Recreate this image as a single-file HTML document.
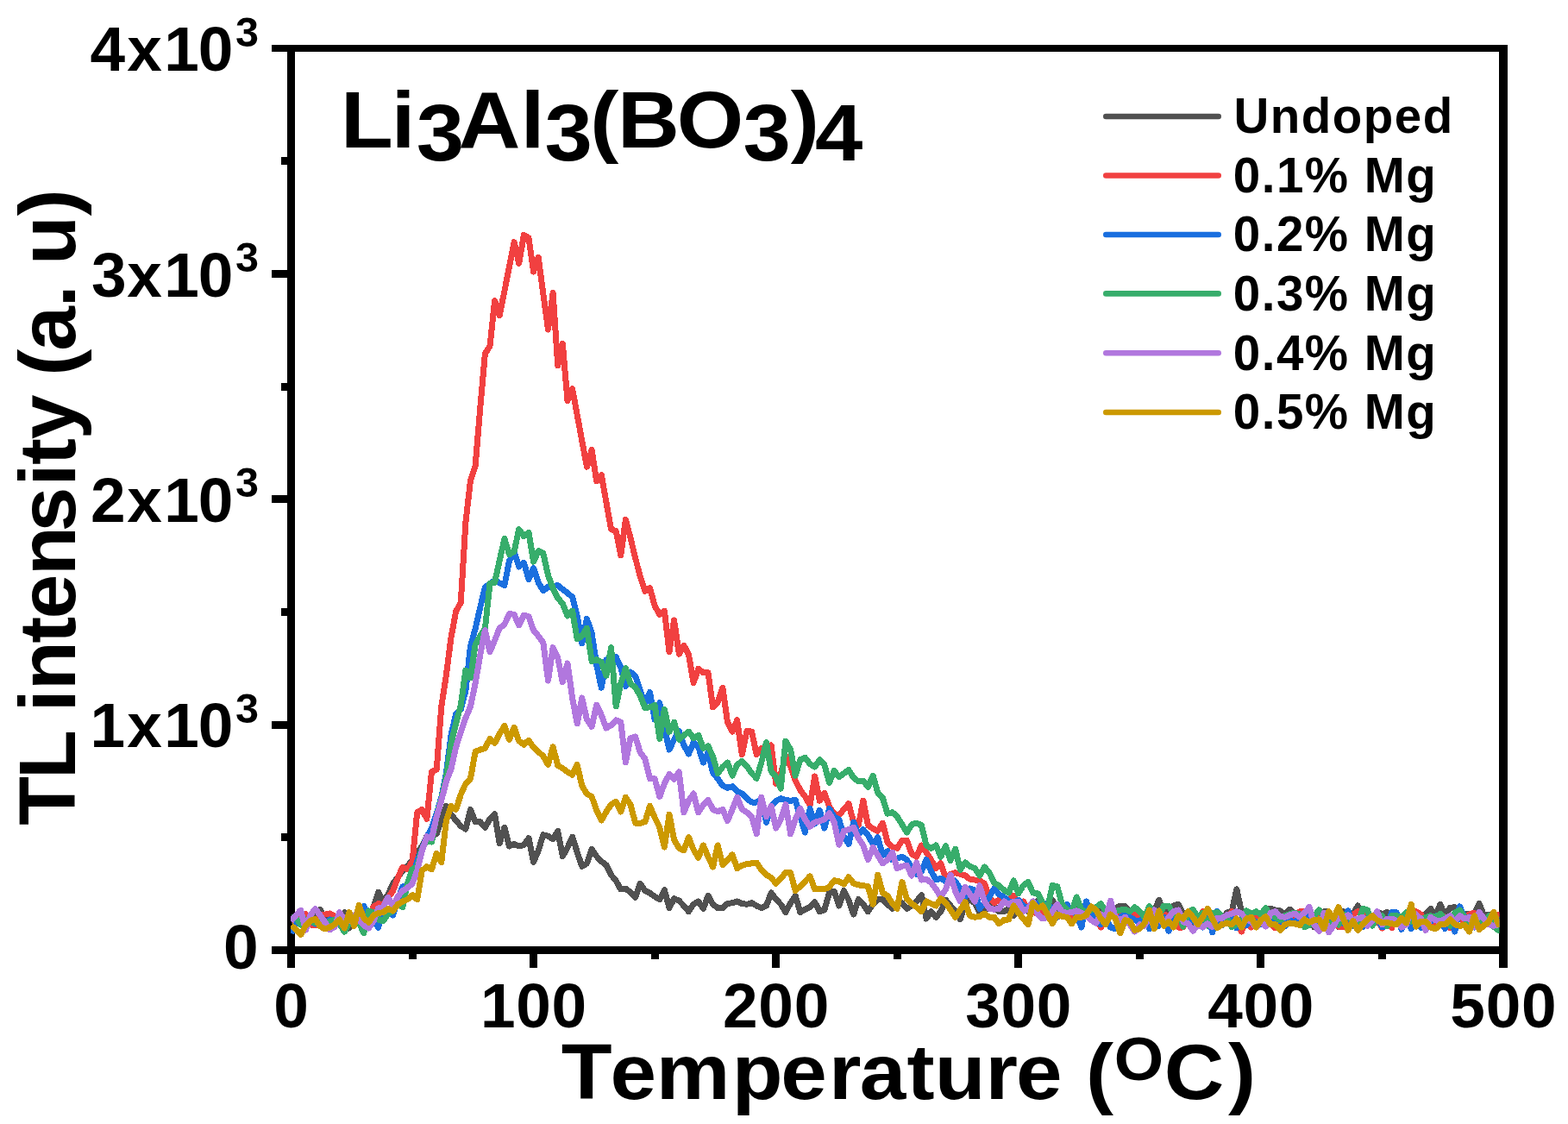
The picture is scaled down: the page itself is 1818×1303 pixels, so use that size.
<!DOCTYPE html>
<html lang="en">
<head>
<meta charset="utf-8">
<title>TL intensity vs Temperature - Li3Al3(BO3)4</title>
<style>
html,body{margin:0;padding:0;background:#fff;}
body{width:1818px;height:1303px;overflow:hidden;font-family:"Liberation Sans",Arial,sans-serif;}
svg{display:block;}
</style>
</head>
<body>
<svg width="1818" height="1303" viewBox="0 0 1818 1303">
<rect x="0" y="0" width="1818" height="1303" fill="#ffffff"/>
<g fill="#000" stroke="none" shape-rendering="crispEdges">
<rect x="333" y="52" width="9" height="1070"/>
<rect x="315" y="1097" width="1433" height="9"/>
<rect x="315" y="52" width="1433" height="8"/>
<rect x="1738" y="52" width="10" height="1070"/>
<rect x="326" y="966" width="7" height="9"/>
<rect x="315" y="836" width="18" height="9"/>
<rect x="326" y="705" width="7" height="9"/>
<rect x="315" y="574" width="18" height="9"/>
<rect x="326" y="444" width="7" height="9"/>
<rect x="315" y="313" width="18" height="9"/>
<rect x="326" y="182" width="7" height="9"/>
<rect x="474" y="1106" width="9" height="6"/>
<rect x="614" y="1106" width="9" height="16"/>
<rect x="755" y="1106" width="9" height="6"/>
<rect x="895" y="1106" width="9" height="16"/>
<rect x="1036" y="1106" width="9" height="6"/>
<rect x="1176" y="1106" width="9" height="16"/>
<rect x="1317" y="1106" width="9" height="6"/>
<rect x="1457" y="1106" width="9" height="16"/>
<rect x="1598" y="1106" width="9" height="6"/>
</g>
<defs><clipPath id="plotclip"><rect x="337.0" y="56.1" width="1401.5" height="1045.4"/></clipPath></defs>
<g clip-path="url(#plotclip)" fill="none" stroke-width="7" stroke-linejoin="round" stroke-linecap="butt" shape-rendering="crispEdges">
<polyline stroke="#515151" points="337.5,1067.7 343.1,1066.0 348.7,1067.7 354.4,1064.3 360.0,1067.7 365.6,1061.0 371.2,1054.3 376.9,1064.3 382.5,1067.7 388.1,1066.0 393.7,1064.3 399.3,1057.7 405.0,1076.0 410.6,1067.7 416.2,1066.0 421.8,1067.7 427.5,1066.0 433.1,1051.0 438.7,1034.3 444.3,1046.0 449.9,1037.0 455.6,1024.3 461.2,1016.8 466.8,1009.3 472.4,1004.3 478.1,996.8 483.7,987.7 489.3,981.5 494.9,969.4 500.5,970.1 506.2,966.5 511.8,950.0 517.4,934.3 523.0,944.3 528.6,951.0 534.3,957.7 539.9,961.0 545.5,938.5 551.1,952.7 556.8,952.7 562.4,959.3 568.0,949.3 573.6,943.5 579.2,977.7 584.9,959.3 590.5,981.0 596.1,978.5 601.7,981.0 607.4,979.3 613.0,971.8 618.6,999.3 624.2,986.0 629.8,967.7 635.5,969.3 641.1,972.7 646.7,963.5 652.3,992.7 658.0,982.7 663.6,970.2 669.2,987.7 674.8,1004.3 680.4,1001.0 686.1,984.3 691.7,992.7 697.3,998.5 702.9,1002.7 708.6,1014.3 714.2,1021.0 719.8,1031.0 725.4,1030.2 731.0,1034.3 736.7,1040.2 742.3,1024.3 747.9,1032.7 753.5,1035.2 759.1,1039.3 764.8,1042.7 770.4,1031.7 776.0,1052.5 781.6,1041.7 787.3,1044.2 792.9,1050.0 798.5,1056.7 804.1,1048.3 809.7,1045.0 815.4,1053.3 821.0,1038.3 826.6,1048.3 832.2,1052.5 837.9,1052.5 843.5,1047.5 849.1,1046.7 854.7,1045.0 860.3,1047.5 866.0,1048.3 871.6,1046.7 877.2,1050.0 882.8,1052.5 888.5,1050.0 894.1,1035.0 899.7,1042.5 905.3,1048.3 910.9,1057.5 916.6,1046.7 922.2,1038.3 927.8,1057.5 933.4,1054.2 939.1,1051.7 944.7,1045.8 950.3,1056.7 955.9,1055.0 961.5,1035.0 967.2,1033.3 972.8,1050.0 978.4,1032.5 984.0,1043.3 989.7,1060.0 995.3,1042.5 1000.9,1048.3 1006.5,1056.7 1012.1,1048.3 1017.8,1042.5 1023.4,1042.5 1029.0,1048.3 1034.6,1053.3 1040.2,1048.3 1045.9,1046.7 1051.5,1053.3 1057.1,1050.0 1062.7,1045.0 1068.4,1037.5 1074.0,1065.0 1079.6,1056.7 1085.2,1063.3 1090.8,1056.7 1096.5,1043.3 1102.1,1050.0 1107.7,1056.7 1113.3,1065.8 1119.0,1046.7 1124.6,1043.3 1130.2,1046.7 1135.8,1058.3 1141.4,1056.7 1147.1,1046.7 1152.7,1050.0 1158.3,1056.7 1163.9,1056.7 1169.6,1053.3 1175.2,1061.7 1180.8,1046.7 1186.4,1053.3 1192.0,1056.7 1197.7,1046.7 1203.3,1044.2 1208.9,1046.7 1214.5,1050.0 1220.2,1043.3 1225.8,1053.3 1231.4,1056.7 1237.0,1055.0 1242.6,1058.3 1248.3,1053.3 1253.9,1056.7 1259.5,1055.0 1265.1,1053.3 1270.8,1056.7 1276.4,1055.0 1282.0,1058.3 1287.6,1056.7 1293.2,1053.3 1298.9,1050.0 1304.5,1050.8 1310.1,1056.7 1315.7,1063.3 1321.3,1060.0 1327.0,1061.7 1332.6,1060.0 1338.2,1056.7 1343.8,1043.3 1349.5,1058.3 1355.1,1056.7 1360.7,1050.0 1366.3,1048.3 1371.9,1060.0 1377.6,1058.7 1383.2,1072.9 1388.8,1071.3 1394.4,1061.1 1400.1,1065.9 1405.7,1065.0 1411.3,1069.0 1416.9,1071.8 1422.5,1057.9 1428.2,1056.7 1433.8,1030.8 1439.4,1056.7 1445.0,1056.6 1450.7,1072.7 1456.3,1064.7 1461.9,1071.2 1467.5,1055.0 1473.1,1053.3 1478.8,1055.0 1484.4,1056.0 1490.0,1060.0 1495.6,1054.2 1501.3,1060.0 1506.9,1064.9 1512.5,1070.4 1518.1,1060.6 1523.7,1074.9 1529.4,1074.0 1535.0,1056.6 1540.6,1056.5 1546.2,1066.8 1551.9,1074.8 1557.5,1056.7 1563.1,1063.6 1568.7,1060.0 1574.3,1050.0 1580.0,1060.0 1585.6,1060.3 1591.2,1064.4 1596.8,1056.6 1602.5,1060.0 1608.1,1057.5 1613.7,1061.7 1619.3,1060.4 1624.9,1064.8 1630.6,1065.9 1636.2,1060.7 1641.8,1060.6 1647.4,1060.8 1653.0,1060.0 1658.7,1053.3 1664.3,1061.7 1669.9,1048.3 1675.5,1061.7 1681.2,1052.5 1686.8,1051.7 1692.4,1060.0 1698.0,1060.4 1703.6,1059.2 1709.3,1060.0 1714.9,1047.5 1720.5,1060.8 1726.1,1060.0 1731.8,1061.7 1737.4,1063.3 1743.0,1061.7"/>
<polyline stroke="#F14040" points="337.5,1067.7 343.1,1064.3 348.7,1066.0 354.4,1059.3 360.0,1072.0 365.6,1072.7 371.2,1061.0 376.9,1060.0 382.5,1059.0 388.1,1061.8 393.7,1067.7 399.3,1066.0 405.0,1067.7 410.6,1067.7 416.2,1067.7 421.8,1067.7 427.5,1064.3 433.1,1051.0 438.7,1047.7 444.3,1048.5 449.9,1041.0 455.6,1032.7 461.2,1017.7 466.8,1005.2 472.4,1007.7 478.1,998.7 483.7,941.8 489.3,938.5 494.9,949.3 500.5,894.3 506.2,892.3 511.8,819.0 517.4,782.3 523.0,739.0 528.6,709.0 534.3,698.2 539.9,605.3 545.5,557.0 551.1,540.3 556.8,472.5 562.4,410.0 568.0,401.3 573.6,348.7 579.2,365.8 584.9,337.5 590.5,309.2 596.1,280.8 601.7,305.3 607.4,272.5 613.0,275.8 618.6,315.0 624.2,298.3 629.8,340.2 635.5,382.0 641.1,339.5 646.7,423.7 652.3,398.3 658.0,464.5 663.6,450.8 669.2,480.9 674.8,511.1 680.4,541.2 686.1,521.5 691.7,557.8 697.3,550.7 702.9,582.2 708.6,613.7 714.2,615.7 719.8,643.7 725.4,602.3 731.0,623.7 736.7,647.0 742.3,668.7 747.9,685.3 753.5,681.5 759.1,702.3 764.8,712.3 770.4,708.2 776.0,755.7 781.6,719.0 787.3,758.2 792.9,748.2 798.5,759.0 804.1,791.5 809.7,775.3 815.4,779.8 821.0,779.8 826.6,819.8 832.2,814.0 837.9,797.3 843.5,837.3 849.1,848.2 854.7,834.8 860.3,874.8 866.0,847.3 871.6,848.2 877.2,874.8 882.8,867.3 888.5,875.7 894.1,864.0 899.7,908.3 905.3,896.7 910.9,876.7 916.6,888.3 922.2,905.0 927.8,915.8 933.4,923.3 939.1,933.3 944.7,900.0 950.3,928.3 955.9,919.2 961.5,935.0 967.2,943.3 972.8,945.0 978.4,938.3 984.0,931.7 989.7,953.3 995.3,956.7 1000.9,928.3 1006.5,956.7 1012.1,960.8 1017.8,963.3 1023.4,954.2 1029.0,976.7 1034.6,981.7 1040.2,983.3 1045.9,974.2 1051.5,974.2 1057.1,990.0 1062.7,993.3 1068.4,980.0 1074.0,988.3 1079.6,996.7 1085.2,1006.7 1090.8,1000.8 1096.5,1018.3 1102.1,1013.3 1107.7,1011.7 1113.3,1013.3 1119.0,1015.0 1124.6,1019.2 1130.2,1020.0 1135.8,1020.8 1141.4,1024.2 1147.1,1040.0 1152.7,1046.7 1158.3,1043.3 1163.9,1045.0 1169.6,1044.2 1175.2,1038.3 1180.8,1046.7 1186.4,1045.0 1192.0,1055.0 1197.7,1056.7 1203.3,1060.0 1208.9,1058.3 1214.5,1061.7 1220.2,1060.0 1225.8,1063.3 1231.4,1060.0 1237.0,1056.7 1242.6,1061.7 1248.3,1060.0 1253.9,1063.3 1259.5,1060.0 1265.1,1061.7 1270.8,1063.3 1276.4,1075.0 1282.0,1063.3 1287.6,1060.0 1293.2,1061.7 1298.9,1061.7 1304.5,1060.0 1310.1,1063.3 1315.7,1060.0 1321.3,1061.7 1327.0,1065.0 1332.6,1060.0 1338.2,1061.7 1343.8,1063.3 1349.5,1060.0 1355.1,1061.7 1360.7,1060.0 1366.3,1075.1 1371.9,1075.0 1377.6,1057.1 1383.2,1057.7 1388.8,1072.7 1394.4,1056.7 1400.1,1070.7 1405.7,1060.0 1411.3,1069.4 1416.9,1062.2 1422.5,1068.1 1428.2,1056.7 1433.8,1068.1 1439.4,1080.0 1445.0,1067.6 1450.7,1075.0 1456.3,1059.2 1461.9,1064.6 1467.5,1063.9 1473.1,1070.5 1478.8,1075.9 1484.4,1075.0 1490.0,1066.9 1495.6,1064.9 1501.3,1061.4 1506.9,1056.7 1512.5,1056.7 1518.1,1056.5 1523.7,1065.3 1529.4,1062.4 1535.0,1063.6 1540.6,1073.8 1546.2,1066.5 1551.9,1074.2 1557.5,1075.0 1563.1,1067.2 1568.7,1060.7 1574.3,1056.5 1580.0,1062.5 1585.6,1058.7 1591.2,1068.3 1596.8,1066.2 1602.5,1076.0 1608.1,1069.5 1613.7,1075.8 1619.3,1059.6 1624.9,1073.9 1630.6,1071.9 1636.2,1070.7 1641.8,1056.7 1647.4,1060.0 1653.0,1074.1 1658.7,1071.3 1664.3,1071.8 1669.9,1061.7 1675.5,1063.1 1681.2,1075.6 1686.8,1075.2 1692.4,1059.2 1698.0,1071.1 1703.6,1060.0 1709.3,1058.3 1714.9,1070.3 1720.5,1065.2 1726.1,1066.6 1731.8,1065.8 1737.4,1060.0 1743.0,1060.0"/>
<polyline stroke="#1A6FDF" points="337.5,1081.8 343.1,1071.0 348.7,1067.7 354.4,1072.7 360.0,1067.7 365.6,1071.0 371.2,1067.7 376.9,1071.0 382.5,1066.0 388.1,1067.7 393.7,1069.3 399.3,1067.7 405.0,1071.0 410.6,1067.7 416.2,1061.0 421.8,1050.2 427.5,1061.0 433.1,1067.7 438.7,1075.2 444.3,1051.0 449.9,1056.0 455.6,1061.0 461.2,1042.7 466.8,1027.7 472.4,1027.7 478.1,1016.0 483.7,998.5 489.3,984.3 494.9,970.2 500.5,960.0 506.2,943.5 511.8,924.3 517.4,896.0 523.0,852.3 528.6,827.7 534.3,822.3 539.9,800.7 545.5,749.0 551.1,729.0 556.8,704.0 562.4,680.7 568.0,676.8 573.6,672.8 579.2,675.8 584.9,678.7 590.5,650.3 596.1,639.5 601.7,657.0 607.4,652.3 613.0,671.7 618.6,658.7 624.2,675.3 629.8,684.8 635.5,680.3 641.1,679.5 646.7,678.7 652.3,683.0 658.0,687.3 663.6,692.3 669.2,714.0 674.8,745.7 680.4,717.3 686.1,734.0 691.7,770.7 697.3,797.3 702.9,764.8 708.6,767.3 714.2,761.5 719.8,774.0 725.4,795.7 731.0,779.0 736.7,784.0 742.3,800.7 747.9,815.7 753.5,802.3 759.1,834.0 764.8,814.8 770.4,844.0 776.0,869.0 781.6,857.3 787.3,847.3 792.9,864.0 798.5,874.0 804.1,860.7 809.7,865.7 815.4,884.0 821.0,872.3 826.6,895.8 832.2,902.5 837.9,910.8 843.5,913.3 849.1,911.7 854.7,917.5 860.3,920.0 866.0,925.8 871.6,930.0 877.2,930.0 882.8,926.7 888.5,953.3 894.1,935.0 899.7,928.3 905.3,925.8 910.9,927.5 916.6,928.3 922.2,927.5 927.8,946.7 933.4,965.0 939.1,937.5 944.7,955.0 950.3,939.2 955.9,960.0 961.5,937.5 967.2,946.7 972.8,950.0 978.4,970.0 984.0,978.3 989.7,953.3 995.3,966.7 1000.9,961.7 1006.5,968.3 1012.1,978.3 1017.8,970.8 1023.4,991.7 1029.0,986.7 1034.6,996.7 1040.2,995.0 1045.9,993.3 1051.5,996.7 1057.1,1006.7 1062.7,1013.3 1068.4,1010.0 1074.0,996.7 1079.6,1010.0 1085.2,1020.0 1090.8,1018.3 1096.5,1021.7 1102.1,1018.3 1107.7,1021.7 1113.3,1030.0 1119.0,1040.0 1124.6,1030.0 1130.2,1031.7 1135.8,1053.3 1141.4,1046.7 1147.1,1040.0 1152.7,1030.0 1158.3,1036.7 1163.9,1040.0 1169.6,1045.0 1175.2,1046.7 1180.8,1043.3 1186.4,1050.0 1192.0,1053.3 1197.7,1050.0 1203.3,1046.7 1208.9,1048.3 1214.5,1046.7 1220.2,1055.0 1225.8,1063.3 1231.4,1053.3 1237.0,1048.3 1242.6,1056.7 1248.3,1060.0 1253.9,1075.0 1259.5,1045.0 1265.1,1060.0 1270.8,1063.3 1276.4,1071.7 1282.0,1063.3 1287.6,1075.0 1293.2,1076.7 1298.9,1063.3 1304.5,1060.0 1310.1,1063.3 1315.7,1066.7 1321.3,1068.3 1327.0,1063.3 1332.6,1076.7 1338.2,1063.3 1343.8,1073.3 1349.5,1063.3 1355.1,1079.2 1360.7,1063.3 1366.3,1060.8 1371.9,1066.9 1377.6,1063.4 1383.2,1068.1 1388.8,1068.5 1394.4,1075.0 1400.1,1057.3 1405.7,1080.8 1411.3,1056.3 1416.9,1072.7 1422.5,1061.2 1428.2,1060.7 1433.8,1075.9 1439.4,1065.4 1445.0,1072.7 1450.7,1065.5 1456.3,1068.8 1461.9,1071.7 1467.5,1071.7 1473.1,1059.0 1478.8,1068.7 1484.4,1066.7 1490.0,1073.4 1495.6,1066.5 1501.3,1070.8 1506.9,1060.0 1512.5,1069.4 1518.1,1057.3 1523.7,1071.2 1529.4,1067.8 1535.0,1062.0 1540.6,1056.6 1546.2,1073.3 1551.9,1065.5 1557.5,1070.4 1563.1,1055.8 1568.7,1073.6 1574.3,1070.3 1580.0,1074.4 1585.6,1063.9 1591.2,1072.0 1596.8,1064.9 1602.5,1074.7 1608.1,1073.6 1613.7,1057.5 1619.3,1057.9 1624.9,1077.5 1630.6,1058.7 1636.2,1076.7 1641.8,1060.3 1647.4,1075.3 1653.0,1064.7 1658.7,1068.5 1664.3,1062.0 1669.9,1066.1 1675.5,1076.7 1681.2,1063.7 1686.8,1080.0 1692.4,1050.8 1698.0,1063.3 1703.6,1063.0 1709.3,1075.0 1714.9,1067.7 1720.5,1067.7 1726.1,1066.7 1731.8,1074.1 1737.4,1069.6 1743.0,1063.3"/>
<polyline stroke="#37AD6B" points="337.5,1063.3 343.1,1064.0 348.7,1072.0 354.4,1066.0 360.0,1068.0 365.6,1070.0 371.2,1066.0 376.9,1072.0 382.5,1068.0 388.1,1066.0 393.7,1071.0 399.3,1080.2 405.0,1069.3 410.6,1064.3 416.2,1069.3 421.8,1081.8 427.5,1056.0 433.1,1057.7 438.7,1066.0 444.3,1067.7 449.9,1059.3 455.6,1056.0 461.2,1047.7 466.8,1051.8 472.4,1024.3 478.1,1007.7 483.7,1004.3 489.3,984.3 494.9,974.3 500.5,976.0 506.2,946.0 511.8,926.0 517.4,901.0 523.0,862.3 528.6,839.0 534.3,817.3 539.9,777.3 545.5,785.7 551.1,747.3 556.8,737.3 562.4,729.0 568.0,676.2 573.6,675.3 579.2,649.9 584.9,624.5 590.5,642.8 596.1,639.5 601.7,613.7 607.4,621.7 613.0,617.3 618.6,651.2 624.2,638.7 629.8,641.2 635.5,667.0 641.1,682.0 646.7,693.2 652.3,699.8 658.0,714.0 663.6,708.2 669.2,740.7 674.8,737.3 680.4,728.2 686.1,766.5 691.7,764.8 697.3,767.3 702.9,783.2 708.6,750.7 714.2,819.0 719.8,792.3 725.4,774.8 731.0,792.3 736.7,797.3 742.3,806.5 747.9,820.7 753.5,819.8 759.1,817.3 764.8,856.5 770.4,822.3 776.0,848.2 781.6,837.3 787.3,857.3 792.9,852.3 798.5,848.2 804.1,855.7 809.7,852.3 815.4,867.3 821.0,864.8 826.6,877.3 832.2,896.5 837.9,889.0 843.5,884.0 849.1,899.0 854.7,886.5 860.3,882.3 866.0,888.2 871.6,896.5 877.2,902.3 882.8,884.0 888.5,860.7 894.1,894.0 899.7,900.7 905.3,914.2 910.9,859.0 916.6,869.0 922.2,899.2 927.8,880.7 933.4,878.2 939.1,885.7 944.7,889.0 950.3,880.7 955.9,886.7 961.5,907.5 967.2,893.3 972.8,900.8 978.4,896.7 984.0,892.5 989.7,901.7 995.3,905.8 1000.9,905.0 1006.5,912.5 1012.1,899.2 1017.8,919.2 1023.4,925.0 1029.0,943.3 1034.6,941.7 1040.2,946.7 1045.9,955.8 1051.5,965.0 1057.1,955.8 1062.7,954.2 1068.4,956.7 1074.0,980.0 1079.6,983.3 1085.2,980.0 1090.8,993.3 1096.5,980.8 1102.1,997.5 1107.7,984.2 1113.3,1008.3 1119.0,1000.0 1124.6,1004.2 1130.2,1006.7 1135.8,1015.0 1141.4,1005.0 1147.1,1011.7 1152.7,1023.3 1158.3,1026.7 1163.9,1031.7 1169.6,1035.0 1175.2,1020.8 1180.8,1035.8 1186.4,1026.7 1192.0,1022.5 1197.7,1035.0 1203.3,1035.8 1208.9,1046.7 1214.5,1053.3 1220.2,1026.7 1225.8,1027.5 1231.4,1048.3 1237.0,1055.0 1242.6,1056.7 1248.3,1040.0 1253.9,1055.0 1259.5,1056.7 1265.1,1055.0 1270.8,1051.7 1276.4,1047.5 1282.0,1056.7 1287.6,1060.0 1293.2,1056.7 1298.9,1055.0 1304.5,1054.2 1310.1,1056.7 1315.7,1051.7 1321.3,1056.7 1327.0,1063.3 1332.6,1050.8 1338.2,1060.0 1343.8,1061.7 1349.5,1050.0 1355.1,1050.0 1360.7,1060.0 1366.3,1060.7 1371.9,1074.2 1377.6,1058.1 1383.2,1054.2 1388.8,1063.9 1394.4,1058.3 1400.1,1073.3 1405.7,1059.1 1411.3,1057.3 1416.9,1061.7 1422.5,1064.0 1428.2,1074.4 1433.8,1072.0 1439.4,1071.3 1445.0,1055.8 1450.7,1059.2 1456.3,1056.7 1461.9,1060.0 1467.5,1052.5 1473.1,1060.4 1478.8,1063.3 1484.4,1066.7 1490.0,1061.5 1495.6,1059.5 1501.3,1058.1 1506.9,1060.3 1512.5,1074.5 1518.1,1072.6 1523.7,1061.7 1529.4,1055.0 1535.0,1063.3 1540.6,1072.1 1546.2,1068.3 1551.9,1072.0 1557.5,1059.9 1563.1,1062.2 1568.7,1068.5 1574.3,1070.6 1580.0,1053.3 1585.6,1055.0 1591.2,1073.1 1596.8,1063.3 1602.5,1061.7 1608.1,1073.6 1613.7,1061.7 1619.3,1061.7 1624.9,1063.3 1630.6,1057.7 1636.2,1068.1 1641.8,1069.4 1647.4,1066.1 1653.0,1063.3 1658.7,1061.7 1664.3,1063.3 1669.9,1059.6 1675.5,1065.5 1681.2,1073.3 1686.8,1057.8 1692.4,1055.0 1698.0,1063.3 1703.6,1074.7 1709.3,1073.3 1714.9,1067.0 1720.5,1068.3 1726.1,1062.0 1731.8,1074.2 1737.4,1078.3 1743.0,1071.7"/>
<polyline stroke="#B177DE" points="337.5,1067.7 343.1,1061.0 348.7,1055.2 354.4,1078.2 360.0,1061.0 365.6,1053.5 371.2,1061.0 376.9,1069.3 382.5,1077.7 388.1,1074.3 393.7,1057.7 399.3,1066.0 405.0,1067.7 410.6,1061.0 416.2,1066.0 421.8,1072.7 427.5,1076.0 433.1,1067.7 438.7,1052.7 444.3,1051.8 449.9,1040.2 455.6,1051.0 461.2,1039.3 466.8,1032.7 472.4,1029.3 478.1,1024.3 483.7,1009.3 489.3,986.0 494.9,969.7 500.5,971.8 506.2,946.8 511.8,927.7 517.4,906.0 523.0,891.5 528.6,866.5 534.3,848.2 539.9,832.3 545.5,819.0 551.1,792.3 556.8,759.0 562.4,730.7 568.0,755.7 573.6,742.3 579.2,728.2 584.9,724.0 590.5,711.5 596.1,712.3 601.7,724.8 607.4,713.2 613.0,714.8 618.6,730.7 624.2,737.3 629.8,744.8 635.5,789.0 641.1,750.7 646.7,762.3 652.3,790.7 658.0,769.0 663.6,809.0 669.2,839.0 674.8,809.0 680.4,834.0 686.1,842.3 691.7,817.3 697.3,829.0 702.9,844.0 708.6,840.7 714.2,834.8 719.8,837.3 725.4,884.0 731.0,855.7 736.7,854.0 742.3,872.3 747.9,879.8 753.5,902.7 759.1,902.7 764.8,923.5 770.4,908.3 776.0,897.5 781.6,903.3 787.3,895.0 792.9,941.7 798.5,928.3 804.1,920.0 809.7,941.7 815.4,933.3 821.0,927.5 826.6,938.3 832.2,940.8 837.9,938.3 843.5,951.7 849.1,938.3 854.7,924.2 860.3,938.3 866.0,941.7 871.6,946.7 877.2,966.7 882.8,924.2 888.5,946.7 894.1,934.2 899.7,960.0 905.3,950.0 910.9,932.5 916.6,966.7 922.2,950.0 927.8,937.5 933.4,950.0 939.1,958.3 944.7,953.3 950.3,951.7 955.9,950.0 961.5,942.5 967.2,953.3 972.8,979.2 978.4,963.3 984.0,961.7 989.7,959.2 995.3,971.7 1000.9,980.0 1006.5,996.7 1012.1,982.5 1017.8,991.7 1023.4,1000.8 1029.0,996.7 1034.6,988.3 1040.2,1006.7 1045.9,1004.2 1051.5,1003.3 1057.1,1015.0 1062.7,1000.0 1068.4,1020.0 1074.0,1019.2 1079.6,1023.3 1085.2,1030.8 1090.8,1040.0 1096.5,1030.8 1102.1,1014.2 1107.7,1033.3 1113.3,1045.0 1119.0,1028.3 1124.6,1036.7 1130.2,1045.0 1135.8,1026.7 1141.4,1045.0 1147.1,1053.3 1152.7,1054.2 1158.3,1053.3 1163.9,1045.0 1169.6,1048.3 1175.2,1045.0 1180.8,1045.0 1186.4,1056.7 1192.0,1053.3 1197.7,1045.0 1203.3,1060.0 1208.9,1065.0 1214.5,1063.3 1220.2,1056.7 1225.8,1048.3 1231.4,1056.7 1237.0,1058.3 1242.6,1057.5 1248.3,1055.8 1253.9,1058.3 1259.5,1061.7 1265.1,1066.7 1270.8,1070.0 1276.4,1060.0 1282.0,1065.0 1287.6,1044.2 1293.2,1063.3 1298.9,1066.7 1304.5,1063.3 1310.1,1071.7 1315.7,1080.0 1321.3,1071.7 1327.0,1073.3 1332.6,1063.3 1338.2,1055.0 1343.8,1063.3 1349.5,1071.7 1355.1,1063.3 1360.7,1056.7 1366.3,1055.0 1371.9,1068.5 1377.6,1070.8 1383.2,1079.2 1388.8,1071.9 1394.4,1074.8 1400.1,1070.8 1405.7,1074.4 1411.3,1064.2 1416.9,1064.2 1422.5,1060.8 1428.2,1059.2 1433.8,1056.6 1439.4,1059.2 1445.0,1065.3 1450.7,1068.3 1456.3,1074.9 1461.9,1069.0 1467.5,1074.0 1473.1,1058.3 1478.8,1056.7 1484.4,1062.5 1490.0,1063.3 1495.6,1060.8 1501.3,1059.2 1506.9,1063.3 1512.5,1058.3 1518.1,1051.7 1523.7,1071.7 1529.4,1079.2 1535.0,1058.3 1540.6,1080.8 1546.2,1073.3 1551.9,1063.3 1557.5,1065.4 1563.1,1060.9 1568.7,1066.7 1574.3,1065.0 1580.0,1063.3 1585.6,1073.3 1591.2,1066.9 1596.8,1056.7 1602.5,1071.7 1608.1,1065.0 1613.7,1065.0 1619.3,1067.5 1624.9,1075.0 1630.6,1071.7 1636.2,1056.3 1641.8,1060.3 1647.4,1065.0 1653.0,1078.3 1658.7,1063.3 1664.3,1066.7 1669.9,1068.3 1675.5,1065.0 1681.2,1061.7 1686.8,1068.3 1692.4,1061.6 1698.0,1065.0 1703.6,1063.3 1709.3,1074.3 1714.9,1057.5 1720.5,1065.0 1726.1,1071.7 1731.8,1073.3 1737.4,1071.7 1743.0,1068.3"/>
<polyline stroke="#CC9900" points="337.5,1072.7 343.1,1077.7 348.7,1083.5 354.4,1073.0 360.0,1067.2 365.6,1065.5 371.2,1073.8 376.9,1077.0 382.5,1075.0 388.1,1071.6 393.7,1066.0 399.3,1076.0 405.0,1057.7 410.6,1073.5 416.2,1049.3 421.8,1064.3 427.5,1069.3 433.1,1061.0 438.7,1058.5 444.3,1057.7 449.9,1053.5 455.6,1056.0 461.2,1048.5 466.8,1045.2 472.4,1042.7 478.1,1037.7 483.7,1042.7 489.3,1009.3 494.9,1004.7 500.5,1007.7 506.2,989.3 511.8,999.7 517.4,951.0 523.0,934.3 528.6,938.5 534.3,921.0 539.9,908.5 545.5,902.7 551.1,871.5 556.8,869.0 562.4,867.3 568.0,856.5 573.6,861.5 579.2,850.7 584.9,841.5 590.5,857.3 596.1,843.2 601.7,859.0 607.4,863.2 613.0,858.2 618.6,866.5 624.2,871.5 629.8,876.5 635.5,886.5 641.1,865.7 646.7,887.3 652.3,890.7 658.0,894.8 663.6,898.2 669.2,886.5 674.8,911.0 680.4,920.2 686.1,923.5 691.7,939.3 697.3,951.0 702.9,941.0 708.6,932.7 714.2,929.3 719.8,941.0 725.4,924.3 731.0,932.7 736.7,954.3 742.3,954.3 747.9,952.7 753.5,934.3 759.1,947.7 764.8,959.3 770.4,982.0 776.0,944.2 781.6,973.7 787.3,983.3 792.9,985.8 798.5,970.8 804.1,985.0 809.7,994.2 815.4,980.0 821.0,993.3 826.6,1005.0 832.2,980.0 837.9,1002.5 843.5,996.7 849.1,990.8 854.7,1006.7 860.3,1003.3 866.0,1001.7 871.6,1000.8 877.2,1000.0 882.8,1008.3 888.5,1014.2 894.1,1017.5 899.7,1024.2 905.3,1018.3 910.9,1011.7 916.6,1011.7 922.2,1032.5 927.8,1027.5 933.4,1021.7 939.1,1015.8 944.7,1030.8 950.3,1030.8 955.9,1030.8 961.5,1028.3 967.2,1020.8 972.8,1021.7 978.4,1025.0 984.0,1016.7 989.7,1024.2 995.3,1025.8 1000.9,1026.7 1006.5,1027.5 1012.1,1048.3 1017.8,1014.2 1023.4,1035.0 1029.0,1038.3 1034.6,1047.5 1040.2,1053.3 1045.9,1022.5 1051.5,1042.5 1057.1,1047.5 1062.7,1051.7 1068.4,1056.7 1074.0,1045.0 1079.6,1047.5 1085.2,1050.0 1090.8,1041.7 1096.5,1046.7 1102.1,1055.0 1107.7,1063.3 1113.3,1055.0 1119.0,1045.8 1124.6,1061.7 1130.2,1063.3 1135.8,1062.5 1141.4,1059.2 1147.1,1063.3 1152.7,1063.3 1158.3,1070.8 1163.9,1066.7 1169.6,1065.8 1175.2,1050.0 1180.8,1058.3 1186.4,1065.0 1192.0,1071.7 1197.7,1046.7 1203.3,1053.3 1208.9,1050.0 1214.5,1060.0 1220.2,1070.8 1225.8,1060.0 1231.4,1062.5 1237.0,1063.3 1242.6,1070.8 1248.3,1063.3 1253.9,1063.3 1259.5,1060.8 1265.1,1050.8 1270.8,1055.0 1276.4,1065.0 1282.0,1071.7 1287.6,1060.0 1293.2,1065.0 1298.9,1081.7 1304.5,1066.7 1310.1,1068.3 1315.7,1078.3 1321.3,1076.7 1327.0,1070.0 1332.6,1055.0 1338.2,1076.7 1343.8,1055.8 1349.5,1073.3 1355.1,1068.3 1360.7,1075.0 1366.3,1061.7 1371.9,1065.0 1377.6,1056.7 1383.2,1063.3 1388.8,1071.7 1394.4,1063.3 1400.1,1053.3 1405.7,1065.0 1411.3,1075.8 1416.9,1071.7 1422.5,1070.0 1428.2,1071.7 1433.8,1065.0 1439.4,1075.0 1445.0,1065.0 1450.7,1063.3 1456.3,1075.0 1461.9,1066.7 1467.5,1062.5 1473.1,1071.7 1478.8,1071.7 1484.4,1078.3 1490.0,1071.7 1495.6,1070.0 1501.3,1070.8 1506.9,1072.5 1512.5,1065.8 1518.1,1069.2 1523.7,1066.7 1529.4,1065.8 1535.0,1076.7 1540.6,1056.7 1546.2,1065.0 1551.9,1051.7 1557.5,1065.0 1563.1,1078.3 1568.7,1067.5 1574.3,1078.3 1580.0,1071.7 1585.6,1065.8 1591.2,1061.7 1596.8,1066.7 1602.5,1070.0 1608.1,1069.2 1613.7,1070.8 1619.3,1071.7 1624.9,1064.2 1630.6,1070.0 1636.2,1048.3 1641.8,1074.2 1647.4,1068.3 1653.0,1068.3 1658.7,1075.0 1664.3,1076.7 1669.9,1071.7 1675.5,1071.7 1681.2,1065.8 1686.8,1071.7 1692.4,1073.3 1698.0,1072.5 1703.6,1080.0 1709.3,1061.7 1714.9,1077.5 1720.5,1073.3 1726.1,1068.3 1731.8,1057.5 1737.4,1071.7 1743.0,1070.0"/>
</g>
<g font-family="'Liberation Sans', Arial, Helvetica, sans-serif" font-weight="700" font-size="73" fill="#000" text-anchor="middle" letter-spacing="0.7">
<text x="337.8" y="1190.6">0</text>
<text x="618.9" y="1190.6">100</text>
<text x="900" y="1190.6">200</text>
<text x="1181.1" y="1190.6">300</text>
<text x="1462.2" y="1190.6">400</text>
<text x="1743.3" y="1190.6">500</text>
</g>
<g font-family="'Liberation Sans', Arial, Helvetica, sans-serif" font-weight="700" font-size="73" fill="#000">
<text x="259.01" y="1122.6">0</text>
<text x="104.4 147.2 190.3 229.81" y="866.25">1x10<tspan font-size="48.5" x="272.89" dy="-28.6">3</tspan></text>
<text x="104.97 147.2 190.3 229.81" y="604.9">2x10<tspan font-size="48.5" x="272.89" dy="-28.6">3</tspan></text>
<text x="105.92 147.2 190.3 229.81" y="343.55">3x10<tspan font-size="48.5" x="272.89" dy="-28.6">3</tspan></text>
<text x="104.4 147.2 190.3 229.81" y="82.2">4x10<tspan font-size="48.5" x="272.89" dy="-28.6">3</tspan></text>
</g>
<text font-family="'Liberation Sans', Arial, Helvetica, sans-serif" font-weight="700" font-size="91.3" fill="#000" transform="scale(1.055 1)" x="616.89 670.65 721 804.6 858.14 910.85 944.81 996.8 1027.23 1082.99 1116.53 1167.31 1193.27" y="1273.6">Temperature (<tspan font-size="70" x="1224.52" y="1252.4">O</tspan><tspan x="1279.48 1349.67" y="1273.6">C)</tspan></text>
<text font-family="'Liberation Sans', Arial, Helvetica, sans-serif" font-weight="700" font-size="93" fill="#000" transform="translate(86.8 956.8) rotate(-90)" x="-0.04 53.88 110.69 131.51 156.77 210.96 239.27 289.87 340.43 393.31 417.86 447.57 499.3 521.37 550.08 600.49 626.33 649.83 706.61" y="0">TL intensity (a. u)</text>
<text font-family="'Liberation Sans', Arial, Helvetica, sans-serif" font-weight="700" font-size="93" fill="#000" transform="scale(1.07 1)"><tspan x="369.11 424.16" y="171">Li</tspan><tspan x="451.14" y="186">3</tspan><tspan x="496.84 564.35" y="171">Al</tspan><tspan x="590.2" y="186">3</tspan><tspan x="639.57 669.2 733.48" y="171">(BO</tspan><tspan x="805.25" y="186">3</tspan><tspan x="856.73" y="171">)</tspan><tspan x="883.27" y="185.8">4</tspan></text>
<line x1="1282.3" y1="135" x2="1412.7" y2="135" stroke="#515151" stroke-width="6.6" stroke-linecap="round"/>
<text font-family="'Liberation Sans', Arial, Helvetica, sans-serif" font-weight="700" font-size="56.5" fill="#000" letter-spacing="1.5" x="1430.41" y="154">Undoped</text>
<line x1="1282.3" y1="203.5" x2="1412.7" y2="203.5" stroke="#F14040" stroke-width="6.6" stroke-linecap="round"/>
<text font-family="'Liberation Sans', Arial, Helvetica, sans-serif" font-weight="700" font-size="56.5" fill="#000" letter-spacing="1.5" x="1429.77" y="222.68">0.1% Mg</text>
<line x1="1282.3" y1="272" x2="1412.7" y2="272" stroke="#1A6FDF" stroke-width="6.6" stroke-linecap="round"/>
<text font-family="'Liberation Sans', Arial, Helvetica, sans-serif" font-weight="700" font-size="56.5" fill="#000" letter-spacing="1.5" x="1429.77" y="291.36">0.2% Mg</text>
<line x1="1282.3" y1="340.4" x2="1412.7" y2="340.4" stroke="#37AD6B" stroke-width="6.6" stroke-linecap="round"/>
<text font-family="'Liberation Sans', Arial, Helvetica, sans-serif" font-weight="700" font-size="56.5" fill="#000" letter-spacing="1.5" x="1429.77" y="360.04">0.3% Mg</text>
<line x1="1282.3" y1="409.3" x2="1412.7" y2="409.3" stroke="#B177DE" stroke-width="6.6" stroke-linecap="round"/>
<text font-family="'Liberation Sans', Arial, Helvetica, sans-serif" font-weight="700" font-size="56.5" fill="#000" letter-spacing="1.5" x="1429.77" y="428.72">0.4% Mg</text>
<line x1="1282.3" y1="478" x2="1412.7" y2="478" stroke="#CC9900" stroke-width="6.6" stroke-linecap="round"/>
<text font-family="'Liberation Sans', Arial, Helvetica, sans-serif" font-weight="700" font-size="56.5" fill="#000" letter-spacing="1.5" x="1429.77" y="497.4">0.5% Mg</text>
</svg>
</body>
</html>
